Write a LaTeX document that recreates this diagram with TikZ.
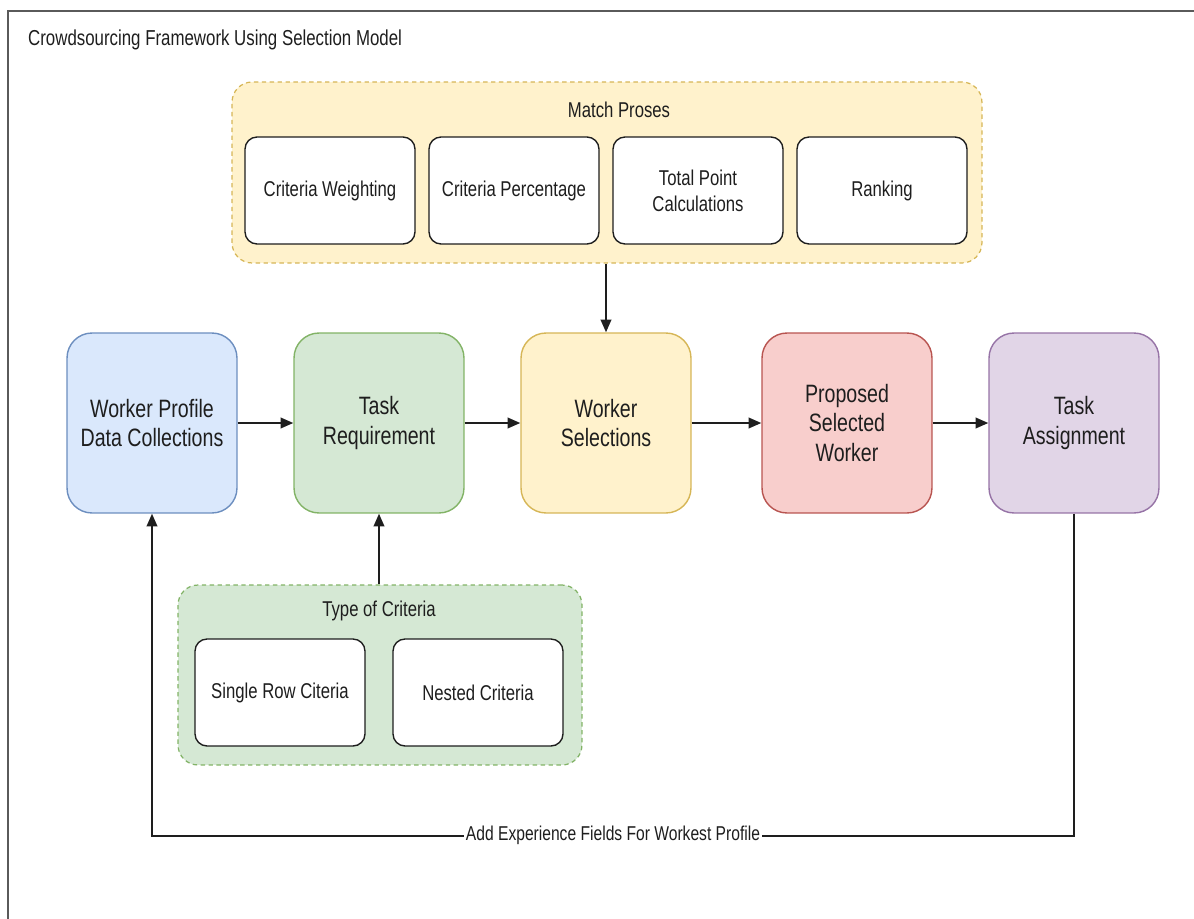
\documentclass[tikz,border=0pt]{standalone}
\usepackage{fontspec}
\setmainfont[FakeStretch=0.78]{Liberation Sans}
\usetikzlibrary{arrows.meta}
\usepackage{xcolor}
\definecolor{inkline}{HTML}{1E1E1E}
\definecolor{framegray}{HTML}{5A5A5A}
\definecolor{bluefill}{HTML}{DAE8FC}
\definecolor{bluedraw}{HTML}{6C8EBF}
\definecolor{greenfill}{HTML}{D5E8D4}
\definecolor{greendraw}{HTML}{82B366}
\definecolor{yellowfill}{HTML}{FFF2CC}
\definecolor{yellowdraw}{HTML}{D6B656}
\definecolor{redfill}{HTML}{F8CECC}
\definecolor{reddraw}{HTML}{B85450}
\definecolor{purplefill}{HTML}{E1D5E7}
\definecolor{purpledraw}{HTML}{9673A6}

\begin{document}
\begin{tikzpicture}[x=0.02cm, y=-0.02cm,
		stage/.style={rectangle, rounded corners=0.5cm, line width=0.8pt, minimum width=3.4cm, minimum height=3.6cm, align=center, text=inkline, font=\fontsize{14.3}{17}\selectfont},
		subbox/.style={rectangle, rounded corners=0.24cm, draw=inkline, fill=white, line width=0.8pt, minimum width=3.4cm, minimum height=2.14cm, align=center, text=inkline, font=\fontsize{12.2}{14.7}\selectfont},
		group/.style={rectangle, rounded corners=0.4cm, dash pattern=on 2.5pt off 2pt, line width=0.7pt},
		grouplabel/.style={text=inkline, font=\fontsize{12.2}{14.7}\selectfont},
		arr/.style={-{Triangle[length=7.2pt, width=6pt]}, line width=1.1pt, color=inkline}]
	\useasboundingbox (0,0) rectangle (1194,919);
	%
	\draw [line width=1.2pt, color=framegray] (1194,11) -- (8,11) -- (8,919);
	\node (title) [anchor=west, text=inkline, font=\fontsize{12.3}{14.7}\selectfont] at (22,40) {Crowdsourcing Framework Using Selection Model};
	%
	% match proses
	\node (match) [group, draw=yellowdraw, fill=yellowfill, minimum width=15cm, minimum height=3.62cm] at (607,172.5) {};
	\node (matchlabel) [grouplabel] at (619,110) {Match Proses};
	\node (weight) [subbox] at (330,190.5) {Criteria Weighting};
	\node (percent) [subbox] at (514,190.5) {Criteria Percentage};
	\node (total) [subbox] at (698,190.5) {Total Point\\Calculations};
	\node (rank) [subbox] at (882,190.5) {Ranking};
	%
	% main row
	\node (profile) [stage, draw=bluedraw, fill=bluefill] at (152,423) {Worker Profile\\Data Collections};
	\node (req) [stage, draw=greendraw, fill=greenfill] at (379,423) {Task\\Requirement};
	\node (sel) [stage, draw=yellowdraw, fill=yellowfill] at (606,423) {Worker\\Selections};
	\node (proposed) [stage, draw=reddraw, fill=redfill] at (847,423) {Proposed\\Selected\\Worker};
	\node (assign) [stage, draw=purpledraw, fill=purplefill] at (1074,423) {Task\\Assignment};
	%
	% type of criteria
	\node (crit) [group, draw=greendraw, fill=greenfill, minimum width=8.08cm, minimum height=3.6cm] at (380,675) {};
	\node (critlabel) [grouplabel] at (379,611) {Type of Criteria};
	\node (single) [subbox] at (280,692.5) {Single Row Citeria};
	\node (nested) [subbox] at (478,692.5) {Nested Criteria};
	%
	\draw [arr] (profile) -- (req);
	\draw [arr] (req) -- (sel);
	\draw [arr] (sel) -- (proposed);
	\draw [arr] (proposed) -- (assign);
	\draw [arr] (match.south -| sel) -- (sel.north);
	\draw [arr] (crit.north -| req) -- (req.south);
	\draw [arr] (assign.south) -- ++(0,322) -| node [pos=0.25, fill=white, inner sep=1pt, text=inkline, font=\fontsize{11.4}{13}\selectfont] {Add Experience Fields For Workest Profile} (profile.south);
\end{tikzpicture}
\end{document}
